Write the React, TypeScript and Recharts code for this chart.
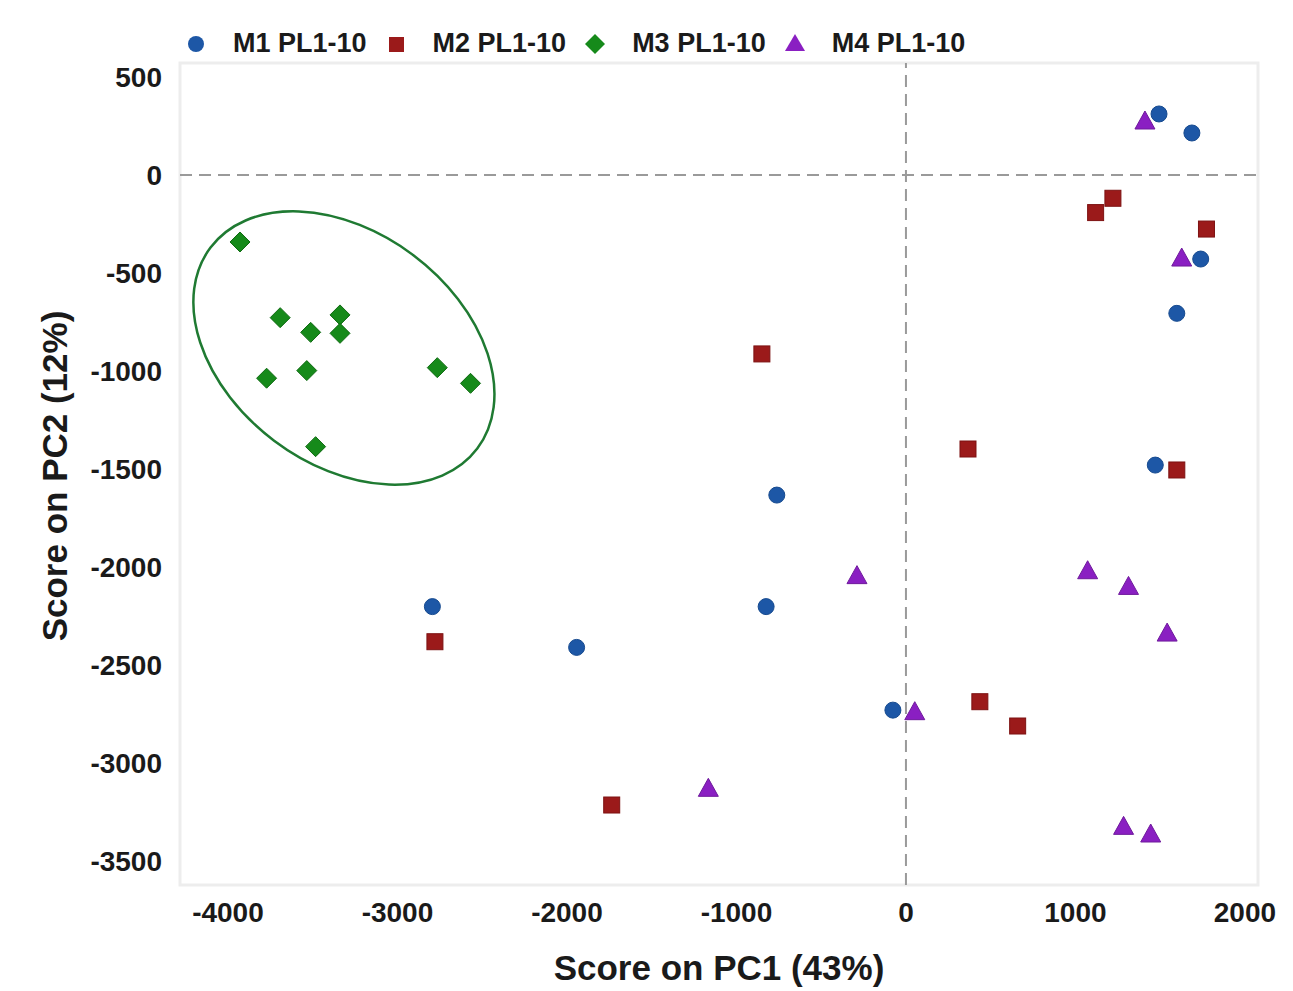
import * as React from "react";
import {
  Label,
  ReferenceArea,
  ReferenceDot,
  ReferenceLine,
  Scatter,
  ScatterChart,
  XAxis,
  YAxis,
} from "recharts";

// PCA scores, [PC1, PC2]
const M1_SCORES = [
  [1493, 311], [1687, 214], [1739, -429], [1598, -706], [1471, -1480],
  [-762, -1633], [-825, -2202], [-77, -2730], [-2794, -2202], [-1943, -2410],
];
const M2_SCORES = [
  [1221, -119], [1119, -192], [1773, -276], [1598, -1505], [-850, -913],
  [366, -1398], [436, -2687], [659, -2811], [-2779, -2381], [-1736, -3214],
];
const M3_SCORES = [
  [-3929, -342], [-3692, -728], [-3512, -803], [-3339, -714], [-3339, -808],
  [-3772, -1037], [-3535, -998], [-2765, -983], [-2569, -1063], [-3483, -1386],
];
const M4_SCORES = [
  [1410, 270], [1627, -429], [-289, -2049], [1072, -2024], [1313, -2104],
  [1541, -2342], [52, -2743], [1284, -3328], [1444, -3367], [-1166, -3134],
];

const SERIES_NAMES = ["M1 PL1-10", "M2 PL1-10", "M3 PL1-10", "M4 PL1-10"];
const X_TICKS = [-4000, -3000, -2000, -1000, 0, 1000, 2000];
const Y_TICKS = [500, 0, -500, -1000, -1500, -2000, -2500, -3000, -3500];
const X_DOMAIN = [-4283, 2077];
const Y_DOMAIN = [-3622, 571];
// centre of the M3 cluster ellipse
const M3_ELLIPSE_CENTER = [-3316, -883];

const FONT = '"Liberation Sans", Arial, sans-serif';
const COLORS = {
  m1: "#1d57a6",
  m2: "#9b1a1a",
  m3: "#168a1a",
  m4: "#8a1fc2",
  ellipse: "#1f7a32",
  ref: "#9a9a9a",
};

const toPoints = (rows: number[][]) => rows.map(([x, y]) => ({ x, y }));

type ShapeProps = { cx?: number; cy?: number };

const CircleMark = ({ cx = 0, cy = 0 }: ShapeProps) => (
  <circle cx={cx} cy={cy} r={8} fill={COLORS.m1} stroke="#164a8f" strokeWidth={1} />
);
const SquareMark = ({ cx = 0, cy = 0 }: ShapeProps) => (
  <rect x={cx - 8} y={cy - 8} width={16} height={16} fill={COLORS.m2} stroke="#7d1212" strokeWidth={1} />
);
const DiamondMark = ({ cx = 0, cy = 0 }: ShapeProps) => (
  <polygon
    points={`${cx},${cy - 10} ${cx + 10},${cy} ${cx},${cy + 10} ${cx - 10},${cy}`}
    fill={COLORS.m3}
    stroke="#0f6a12"
    strokeWidth={1}
  />
);
const TriangleMark = ({ cx = 0, cy = 0 }: ShapeProps) => (
  <polygon
    points={`${cx},${cy - 11} ${cx + 10},${cy + 7} ${cx - 10},${cy + 7}`}
    fill={COLORS.m4}
    stroke="#6f1a9c"
    strokeWidth={1}
  />
);

const EllipseShape = ({ cx = 0, cy = 0 }: ShapeProps) => (
  <ellipse
    cx={cx}
    cy={cy}
    rx={167}
    ry={116}
    transform={`rotate(37, ${cx}, ${cy})`}
    fill="none"
    stroke={COLORS.ellipse}
    strokeWidth={2.5}
  />
);

const tickStyle = { fontFamily: FONT, fontWeight: 700, fontSize: 28, fill: "#1a1a1a" };
const titleStyle = { fontFamily: FONT, fontWeight: 700, fontSize: 35, fill: "#1a1a1a" };

const XTitle = ({ viewBox }: any) => (
  <text x={viewBox.x + viewBox.width / 2} y={viewBox.y + 95} textAnchor="middle" style={titleStyle}>
    Score on PC1 (43%)
  </text>
);

const YTitle = ({ viewBox }: any) => {
  const x = viewBox.x + 46;
  const y = viewBox.y + viewBox.height / 2 + 2;
  return (
    <text
      x={x}
      y={y}
      textAnchor="middle"
      dominantBaseline="central"
      transform={`rotate(-90, ${x}, ${y})`}
      style={titleStyle}
    >
      Score on PC2 (12%)
    </text>
  );
};

const LEGEND_ICONS = [
  <circle key="c" cx={10} cy={11} r={8} fill={COLORS.m1} />,
  <rect key="s" x={3} y={4} width={15} height={15} fill={COLORS.m2} />,
  <polygon key="d" points="10,1 20,11 10,21 0,11" fill={COLORS.m3} />,
  <polygon key="t" points="10,1 20,18 0,18" fill={COLORS.m4} />,
];

function Legend() {
  return (
    <div
      style={{
        position: "absolute",
        left: 178,
        top: 20,
        display: "flex",
        alignItems: "center",
        fontFamily: FONT,
        fontWeight: 700,
        fontSize: 27,
        color: "#1a1a1a",
        whiteSpace: "nowrap",
      }}
    >
      {SERIES_NAMES.map((name, i) => (
        <div key={name} style={{ display: "flex", alignItems: "center", marginRight: 19 }}>
          <svg width={20} height={22} style={{ marginRight: 27 }}>
            {LEGEND_ICONS[i]}
          </svg>
          <span>{name}</span>
        </div>
      ))}
    </div>
  );
}

export default function App() {
  return (
    <div style={{ position: "relative", width: 1277, height: 983, background: "#fff" }}>
      <ScatterChart width={1277} height={983} margin={{ top: 55, right: 27, bottom: 0, left: 0 }}>
        <ReferenceArea
          x1={X_DOMAIN[0]}
          x2={X_DOMAIN[1]}
          y1={Y_DOMAIN[0]}
          y2={Y_DOMAIN[1]}
          fill="none"
          stroke="#ededed"
          strokeWidth={3}
          ifOverflow="visible"
        />
        <XAxis
          type="number"
          dataKey="x"
          domain={X_DOMAIN}
          ticks={X_TICKS}
          allowDataOverflow
          height={106}
          axisLine={false}
          tickLine={false}
          tickSize={0}
          tickMargin={17}
          tick={tickStyle}
        >
          <Label content={XTitle} />
        </XAxis>
        <YAxis
          type="number"
          dataKey="y"
          domain={Y_DOMAIN}
          ticks={Y_TICKS}
          allowDataOverflow
          width={172}
          axisLine={false}
          tickLine={false}
          tickSize={0}
          tickMargin={18}
          tick={tickStyle}
        >
          <Label content={YTitle} />
        </YAxis>
        <ReferenceLine x={0} stroke={COLORS.ref} strokeWidth={2} strokeDasharray="12 7" />
        <ReferenceLine y={0} stroke={COLORS.ref} strokeWidth={2} strokeDasharray="12 7" />
        <ReferenceDot x={M3_ELLIPSE_CENTER[0]} y={M3_ELLIPSE_CENTER[1]} shape={EllipseShape} />
        <Scatter name={SERIES_NAMES[0]} data={toPoints(M1_SCORES)} shape={CircleMark} isAnimationActive={false} />
        <Scatter name={SERIES_NAMES[1]} data={toPoints(M2_SCORES)} shape={SquareMark} isAnimationActive={false} />
        <Scatter name={SERIES_NAMES[2]} data={toPoints(M3_SCORES)} shape={DiamondMark} isAnimationActive={false} />
        <Scatter name={SERIES_NAMES[3]} data={toPoints(M4_SCORES)} shape={TriangleMark} isAnimationActive={false} />
      </ScatterChart>
      <Legend />
    </div>
  );
}
